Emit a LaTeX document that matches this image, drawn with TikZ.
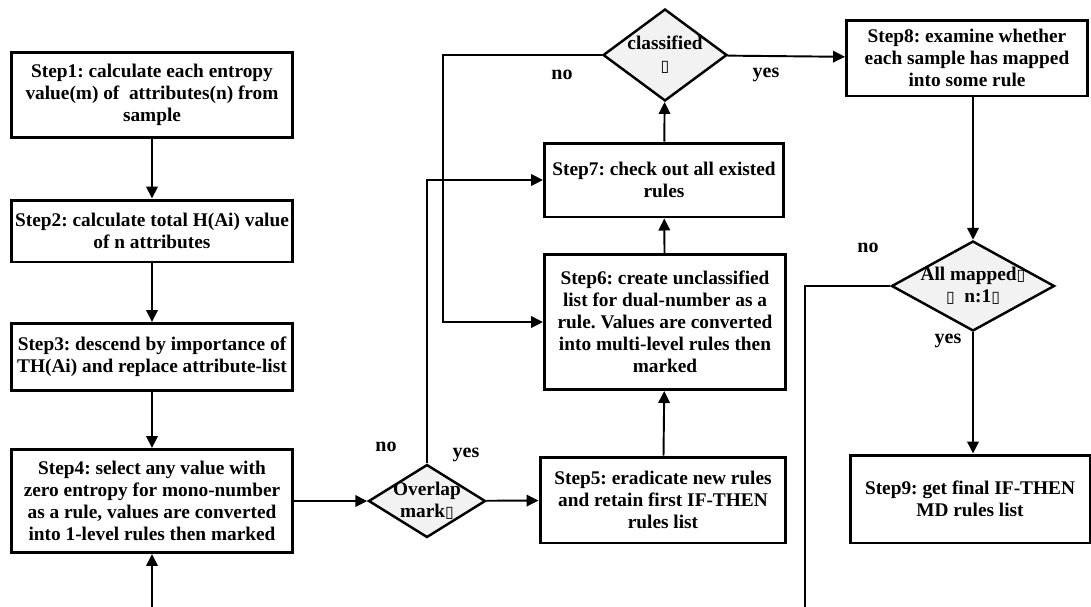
\documentclass[tikz,border=0pt]{standalone}
\usepackage{fontspec}
\setmainfont{Liberation Serif}
\newfontfamily\glyphfont{DejaVu Sans}
\usetikzlibrary{arrows.meta,shapes.geometric}
\newcommand{\tofu}{{\glyphfont\fontsize{9}{9}\selectfont\char"25AF}}
\frenchspacing

\tikzset{
  stepbox/.style={draw,line width=1.7pt,fill=white,align=center,inner sep=0pt,
    font=\bfseries\fontsize{11}{12.6}\selectfont},
  decide/.style={diamond,draw,line width=1.4pt,fill=black!5,inner sep=0pt},
  intext/.style={align=center,inner sep=0pt,font=\bfseries\fontsize{11}{12.6}\selectfont},
  flow/.style={line width=1.1pt,-{Triangle[length=2.4mm,width=2.3mm]}},
  link/.style={line width=1.1pt},
  tag/.style={font=\bfseries\fontsize{11.4}{12}\selectfont}
}

\begin{document}
\begin{tikzpicture}[x={(0.02cm,0cm)},y={(0cm,-0.02cm)}]
\useasboundingbox (0,0) rectangle (1091,606);
% left column
\node[stepbox,minimum width=5.62cm,minimum height=1.70cm] (s1) at (152,95)
  {Step1: calculate each entropy\\value(m) of\ \ attributes(n) from\\sample};
\node[stepbox,minimum width=5.62cm,minimum height=1.24cm] (s2) at (152,231)
  {Step2: calculate total H(Ai) value\\of n attributes};
\node[stepbox,minimum width=5.62cm,minimum height=1.34cm] (s3) at (152,357)
  {Step3: descend by importance of\\TH(Ai) and replace attribute-list};
\node[stepbox,minimum width=5.62cm,minimum height=2.06cm] (s4) at (152,501)
  {Step4: select any value with\\zero entropy for mono-number\\as a rule, values are converted\\into 1-level rules then marked};
% middle column
\node[decide,minimum width=2.34cm,minimum height=1.46cm,
  label={[intext]center:Overlap\\mark\tofu}] (ovl) at (427,501) {};
\node[stepbox,minimum width=4.92cm,minimum height=1.72cm] (s5) at (663,500)
  {Step5: eradicate new rules\\and retain first IF-THEN\\rules list};
\node[stepbox,minimum width=4.82cm,minimum height=2.70cm] (s6) at (665,322)
  {Step6: create unclassified\\list for dual-number as a\\rule. Values are converted\\into multi-level rules then\\marked};
\node[stepbox,minimum width=4.78cm,minimum height=1.48cm] (s7) at (664,180)
  {Step7: check out all existed\\rules};
\node[decide,minimum width=2.48cm,minimum height=1.84cm,
  label={[intext]center:classified\\\tofu}] (cls) at (665,55) {};
% right column
\node[stepbox,minimum width=4.82cm,minimum height=1.52cm] (s8) at (967,58)
  {Step8: examine whether\\each sample has mapped\\into some rule};
\node[decide,minimum width=3.26cm,minimum height=1.80cm,
  label={[intext]center:All mapped\tofu\\\tofu\ \ n:1\tofu}] (map) at (973,286) {};
\node[stepbox,minimum width=4.80cm,minimum height=1.76cm] (s9) at (970,499)
  {Step9: get final IF-THEN\\MD rules list};

\coordinate (clsturn) at (443,55);
\coordinate (loopR) at (805,625);
\coordinate (loopL) at (152,625);

\draw[flow] (s1) -- (s2);
\draw[flow] (s2) -- (s3);
\draw[flow] (s3) -- (s4);
\draw[flow] (s4) -- (ovl);
\draw[flow] (ovl) -- (s5);
\draw[flow] (ovl.north) |- (s7.west);
\draw[flow] (s5) -- (s6);
\draw[flow] (s6) -- (s7);
\draw[flow] (s7) -- (cls);
\draw[flow] (cls.west) -- (clsturn) |- (s6.west);
\draw[flow] (cls) -- (s8);
\draw[flow] (s8.south -| map.north) -- (map.north);
\draw[flow] (map.south) -- (map.south |- s9.north);
\draw[flow] (map.west) -| (loopR) -- (loopL) -- (s4.south);

\node[tag] (noOvl) at (386,447) {no};
\node[tag] (yesOvl) at (466,455) {yes};
\node[tag] (noCls) at (562,75) {no};
\node[tag] (yesCls) at (766,75) {yes};
\node[tag] (noMap) at (868,248) {no};
\node[tag] (yesMap) at (948,341) {yes};
\end{tikzpicture}
\end{document}
